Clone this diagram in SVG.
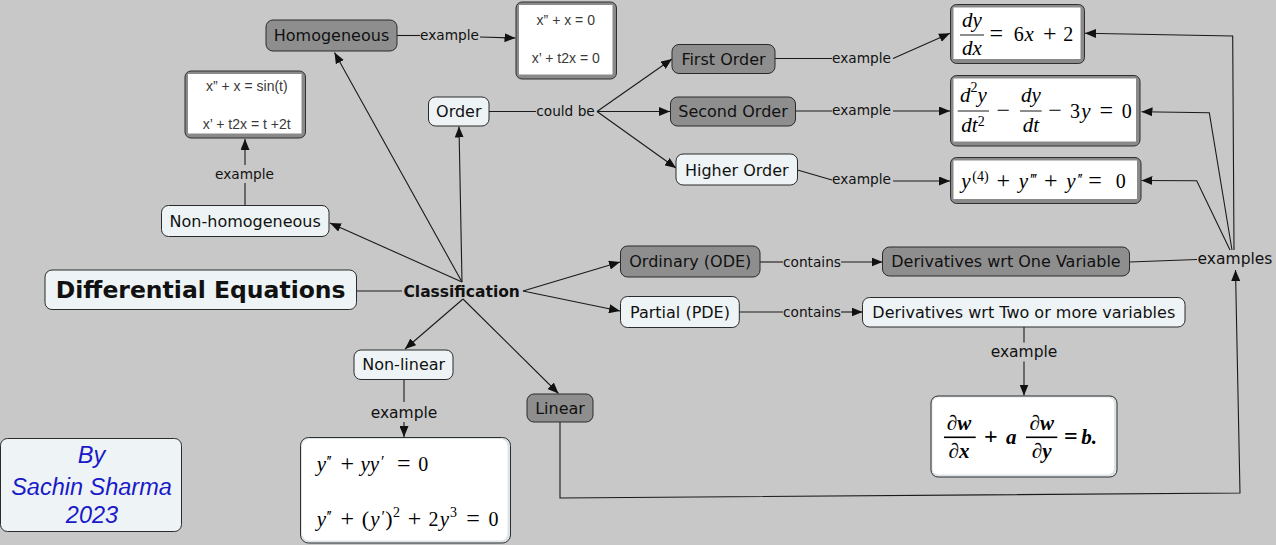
<svg xmlns="http://www.w3.org/2000/svg" width="1276" height="545" viewBox="0 0 1276 545">
<defs>
<marker id="ah" viewBox="0 0 11 9" refX="11" refY="4.5" markerWidth="11" markerHeight="9" markerUnits="userSpaceOnUse" orient="auto"><path d="M0,0 L11,4.5 L0,9 z" fill="#111"/></marker>
<style>
.c{fill:none;stroke:#1a1a1a;stroke-width:1.1}
.a{marker-end:url(#ah)}
.dk{fill:#8e8e8e;stroke:#2a2a2a;stroke-width:1}
.lt{fill:#eef4f6;stroke:#2a2a2a;stroke-width:1}
.fr{fill:#8a8a8a;stroke:#2f2f2f;stroke-width:1}
.wh{fill:#ffffff}
.pl{fill:#dde4e8;stroke:#2f2f2f;stroke-width:1}
.t{font-family:"DejaVu Sans",Verdana,sans-serif;font-size:16px;fill:#111;text-anchor:middle}
.lb{font-family:"DejaVu Sans",Verdana,sans-serif;font-size:13.7px;fill:#111;text-anchor:middle}
.lb2{font-family:"DejaVu Sans",Verdana,sans-serif;font-size:15.5px;fill:#111;text-anchor:middle}
.ex{font-family:"Liberation Sans",Arial,sans-serif;font-size:14px;fill:#3a3a3a;text-anchor:middle}
.m{font-family:"Liberation Serif","Times New Roman",serif;font-size:20px;fill:#000;text-anchor:middle}
.i{font-style:italic;font-size:21px}
.op{font-size:24px}
.n{font-style:normal}
.s{font-size:14px}
.pr{font-size:16px;letter-spacing:-1.5px}
.b{font-weight:bold}
.bar{stroke:#000;stroke-width:0.9}
.by{font-family:"Liberation Sans",Arial,sans-serif;font-size:23.5px;font-style:italic;fill:#1a1ac8;text-anchor:middle}
</style>
</defs>
<rect x="0" y="0" width="1276" height="545" fill="#c8c8c8"/>

<g id="connectors">
<line class="c" x1="357" y1="291" x2="402" y2="291"/>
<line class="c a" x1="462" y1="282" x2="334.5" y2="52.5"/>
<line class="c a" x1="462" y1="282" x2="459" y2="126.5"/>
<line class="c a" x1="462" y1="282" x2="330" y2="223"/>
<line class="c a" x1="463" y1="299" x2="405" y2="349"/>
<line class="c a" x1="463" y1="299" x2="558.5" y2="393.5"/>
<line class="c a" x1="523" y1="291" x2="620" y2="262"/>
<line class="c a" x1="523" y1="291" x2="620" y2="311"/>
<line class="c" x1="489" y1="111.5" x2="536" y2="111.5"/>
<line class="c a" x1="597" y1="111.5" x2="672" y2="59"/>
<line class="c a" x1="597" y1="111.5" x2="670" y2="111.5"/>
<line class="c a" x1="597" y1="111.5" x2="676" y2="168"/>
<line class="c" x1="397" y1="35.5" x2="420" y2="35.5"/>
<line class="c a" x1="480" y1="37" x2="515.5" y2="38"/>
<line class="c" x1="245" y1="205.5" x2="245" y2="183"/>
<line class="c a" x1="245" y1="165" x2="245" y2="139"/>
<line class="c" x1="775" y1="58.5" x2="832" y2="58.5"/>
<polyline class="c a" points="893,58.5 950,33.3"/>
<line class="c" x1="796" y1="111" x2="832" y2="111"/>
<line class="c a" x1="893" y1="111" x2="950" y2="111"/>
<polyline class="c" points="797.5,170 832,180"/>
<line class="c a" x1="893" y1="181" x2="950" y2="181"/>
<line class="c" x1="760" y1="262" x2="783" y2="262"/>
<line class="c a" x1="841" y1="262" x2="882.5" y2="262"/>
<line class="c" x1="739" y1="312" x2="783" y2="312"/>
<line class="c a" x1="841" y1="312" x2="862.5" y2="312"/>
<line class="c" x1="1024" y1="327" x2="1024" y2="342.5"/>
<line class="c a" x1="1024" y1="361.5" x2="1024" y2="395.5"/>
<line class="c" x1="404" y1="379.5" x2="404" y2="402"/>
<line class="c a" x1="404" y1="422" x2="404" y2="437"/>
<line class="c" x1="1129.5" y1="262" x2="1197" y2="259.5"/>
<polyline class="c a" points="1234,250 1232.7,36 1085,33.3"/>
<polyline class="c a" points="1232,250 1209.3,112.7 1141.5,111.7"/>
<polyline class="c a" points="1230,250 1196.7,180.7 1141.5,180.5"/>
<polyline class="c a" points="560,422 560,498 1240,493 1235.5,270"/>
<text class="lb" x="449.5" y="39.5">example</text>
<text class="lb" x="244.5" y="178.5">example</text>
<text class="lb" x="565.5" y="116">could be</text>
<text class="lb" x="861.5" y="62.5">example</text>
<text class="lb" x="861.5" y="114.5">example</text>
<text class="lb" x="861.5" y="184">example</text>
<text class="lb" x="812" y="266.5">contains</text>
<text class="lb" x="812" y="316.5">contains</text>
<text class="lb2" x="1024" y="357">example</text>
<text class="lb2" x="404" y="418">example</text>
<text class="lb2" x="1235" y="263.5">examples</text>
</g>

<g id="differential-equations">
<rect class="lt" x="45" y="270" width="311.5" height="39.5" rx="7"/>
<text class="t b" x="200.7" y="297.5" style="font-size:23.5px">Differential Equations</text>
</g>
<g id="classification">
<text class="t b" x="461.7" y="297" style="font-size:15.5px">Classification</text>
</g>
<g id="homogeneous">
<rect class="dk" x="266" y="20" width="131" height="31" rx="7"/>
<text class="t" x="331.5" y="41">Homogeneous</text>
</g>
<g id="homogeneous-example">
<rect class="fr" x="516" y="2" width="100.5" height="77" rx="6"/>
<rect class="wh" x="519" y="5" width="93.5" height="69.5"/>
<text class="ex" x="565.8" y="25">x” + x = 0</text>
<text class="ex" x="565.8" y="63.3">x’ + t2x = 0</text>
</g>
<g id="non-homogeneous">
<rect class="lt" x="161.5" y="205.5" width="167.5" height="31" rx="7"/>
<text class="t" x="245.2" y="226.5">Non-homogeneous</text>
</g>
<g id="non-homogeneous-example">
<rect class="fr" x="185" y="71" width="120.5" height="67" rx="6"/>
<rect class="wh" x="188" y="74" width="113.5" height="59.5"/>
<text class="ex" x="246.8" y="90.5">x” + x = sin(t)</text>
<text class="ex" x="246.7" y="129">x’ + t2x = t +2t</text>
</g>
<g id="order">
<rect class="lt" x="428.5" y="97" width="60.5" height="29" rx="7"/>
<text class="t" x="458.8" y="117">Order</text>
</g>
<g id="first-order">
<rect class="dk" x="672" y="44.5" width="103" height="29" rx="7"/>
<text class="t" x="723.5" y="64.5">First Order</text>
</g>
<g id="second-order">
<rect class="dk" x="670.5" y="97" width="125" height="29" rx="7"/>
<text class="t" x="733" y="117">Second Order</text>
</g>
<g id="higher-order">
<rect class="lt" x="676" y="154" width="121.5" height="31" rx="7"/>
<text class="t" x="736.8" y="175.5">Higher Order</text>
</g>
<g id="first-order-example">
<rect class="fr" x="950.5" y="4.5" width="134" height="59" rx="6"/>
<rect class="wh" x="953.5" y="7.5" width="127" height="51.5"/>
<text class="m i" x="971.8" y="27">dy</text>
<line class="bar" x1="960" y1="35" x2="984" y2="35"/>
<text class="m i" x="971.8" y="55">dx</text>
<text class="m op" x="996.3" y="41">=</text>
<text class="m" x="1018.7" y="41">6</text>
<text class="m i" x="1029.2" y="41">x</text>
<text class="m op" x="1049.7" y="41">+</text>
<text class="m" x="1068.3" y="41">2</text>
</g>
<g id="second-order-example">
<rect class="fr" x="950.5" y="75.5" width="189.5" height="70.5" rx="6"/>
<rect class="wh" x="953.5" y="78.5" width="182.5" height="63"/>
<text class="m i" x="973.3" y="101.5">d<tspan class="s n" dy="-10">2</tspan><tspan dy="10">y</tspan></text>
<line class="bar" x1="957.7" y1="111" x2="989" y2="111"/>
<text class="m i" x="973" y="131.5">dt<tspan class="s n" dy="-6">2</tspan></text>
<text class="m op" x="1003.3" y="117.5">−</text>
<text class="m i" x="1030.8" y="101.5">dy</text>
<line class="bar" x1="1020" y1="111" x2="1041.7" y2="111"/>
<text class="m i" x="1030.8" y="131.5">dt</text>
<text class="m op" x="1055" y="117.5">−</text>
<text class="m" x="1075" y="118.3">3</text>
<text class="m i" x="1086" y="118.3">y</text>
<text class="m op" x="1106.3" y="118.3">=</text>
<text class="m" x="1126.7" y="118.3">0</text>
</g>
<g id="higher-order-example">
<rect class="fr" x="950.5" y="157.5" width="190.5" height="46" rx="6"/>
<rect class="wh" x="953.5" y="160.5" width="183.5" height="38.5"/>
<text class="m i" x="966" y="188.3">y</text>
<text class="m s" x="980.5" y="180.5">(4)</text>
<text class="m op" x="1003.3" y="188.3">+</text>
<text class="m i" x="1023.3" y="188.3">y</text>
<text class="m pr" x="1033" y="185">′′′</text>
<text class="m op" x="1050.8" y="188.3">+</text>
<text class="m i" x="1070.8" y="188.3">y</text>
<text class="m pr" x="1079.5" y="185">′′</text>
<text class="m op" x="1095" y="188.3">=</text>
<text class="m" x="1120.8" y="188.3">0</text>
</g>
<g id="ordinary">
<rect class="dk" x="620.5" y="246" width="139.5" height="31" rx="7"/>
<text class="t" x="690.3" y="267">Ordinary (ODE)</text>
</g>
<g id="partial">
<rect class="lt" x="620.5" y="296.5" width="118.8" height="31" rx="7"/>
<text class="t" x="680" y="317.5">Partial (PDE)</text>
</g>
<g id="derivatives-one">
<rect class="dk" x="882.5" y="247" width="247" height="29" rx="7"/>
<text class="t" x="1006" y="267">Derivatives wrt One Variable</text>
</g>
<g id="derivatives-two">
<rect class="lt" x="862.5" y="297.5" width="322.5" height="29.5" rx="7"/>
<text class="t" x="1023.8" y="317.5">Derivatives wrt Two or more variables</text>
</g>
<g id="pde-example">
<rect class="pl" x="931" y="396" width="186" height="81" rx="7"/>
<rect class="wh" x="932.5" y="397.5" width="181.5" height="77" rx="6"/>
<text class="m i b" x="959" y="430">∂w</text>
<line x1="944" y1="437.3" x2="975.7" y2="437.3" stroke="#000" stroke-width="1.6"/>
<text class="m i b" x="959" y="457.7">∂x</text>
<text class="m op b" x="990.8" y="444">+</text>
<text class="m i b" x="1011.3" y="444">a</text>
<text class="m i b" x="1041.7" y="430">∂w</text>
<line x1="1026" y1="437.3" x2="1057.3" y2="437.3" stroke="#000" stroke-width="1.6"/>
<text class="m i b" x="1041.7" y="457.7">∂y</text>
<text class="m op b" x="1070.8" y="444">=</text>
<text class="m i b" x="1089" y="444">b.</text>
</g>
<g id="non-linear">
<rect class="lt" x="354" y="350" width="99" height="29.5" rx="7"/>
<text class="t" x="403.7" y="370">Non-linear</text>
</g>
<g id="non-linear-example">
<rect class="pl" x="300.5" y="437.5" width="210" height="105.5" rx="8"/>
<rect class="wh" x="302" y="439" width="205.5" height="101.5" rx="7"/>
<text class="m i" x="321.4" y="471">y</text>
<text class="m pr" x="328.5" y="467">′′</text>
<text class="m op" x="347.3" y="471">+</text>
<text class="m i" x="369.8" y="471">yy</text>
<text class="m pr" x="382" y="467">′</text>
<text class="m op" x="403.7" y="471">=</text>
<text class="m" x="423.3" y="471">0</text>
<text class="m i" x="321.4" y="526.3">y</text>
<text class="m pr" x="328.5" y="522.3">′′</text>
<text class="m op" x="347.3" y="526.3">+</text>
<text class="m" x="365.5" y="526.3" style="font-size:22px">(</text>
<text class="m i" x="375" y="526.3">y</text>
<text class="m pr" x="382.5" y="522.3">′</text>
<text class="m" x="389" y="526.3" style="font-size:22px">)</text>
<text class="m s" x="396.5" y="517">2</text>
<text class="m op" x="414.5" y="526.3">+</text>
<text class="m" x="433.5" y="526.3">2</text>
<text class="m i" x="444.5" y="526.3">y</text>
<text class="m s" x="453.5" y="517">3</text>
<text class="m op" x="473" y="526.3">=</text>
<text class="m" x="493.5" y="526.3">0</text>
</g>
<g id="linear">
<rect class="dk" x="527" y="394" width="66" height="28" rx="7"/>
<text class="t" x="560" y="413.5">Linear</text>
</g>
<g id="author">
<rect class="lt" x="0.5" y="438.5" width="181" height="93" rx="7"/>
<text class="by" x="91.5" y="463">By</text>
<text class="by" x="91.5" y="494.5">Sachin Sharma</text>
<text class="by" x="92" y="523">2023</text>
</g>
</svg>
